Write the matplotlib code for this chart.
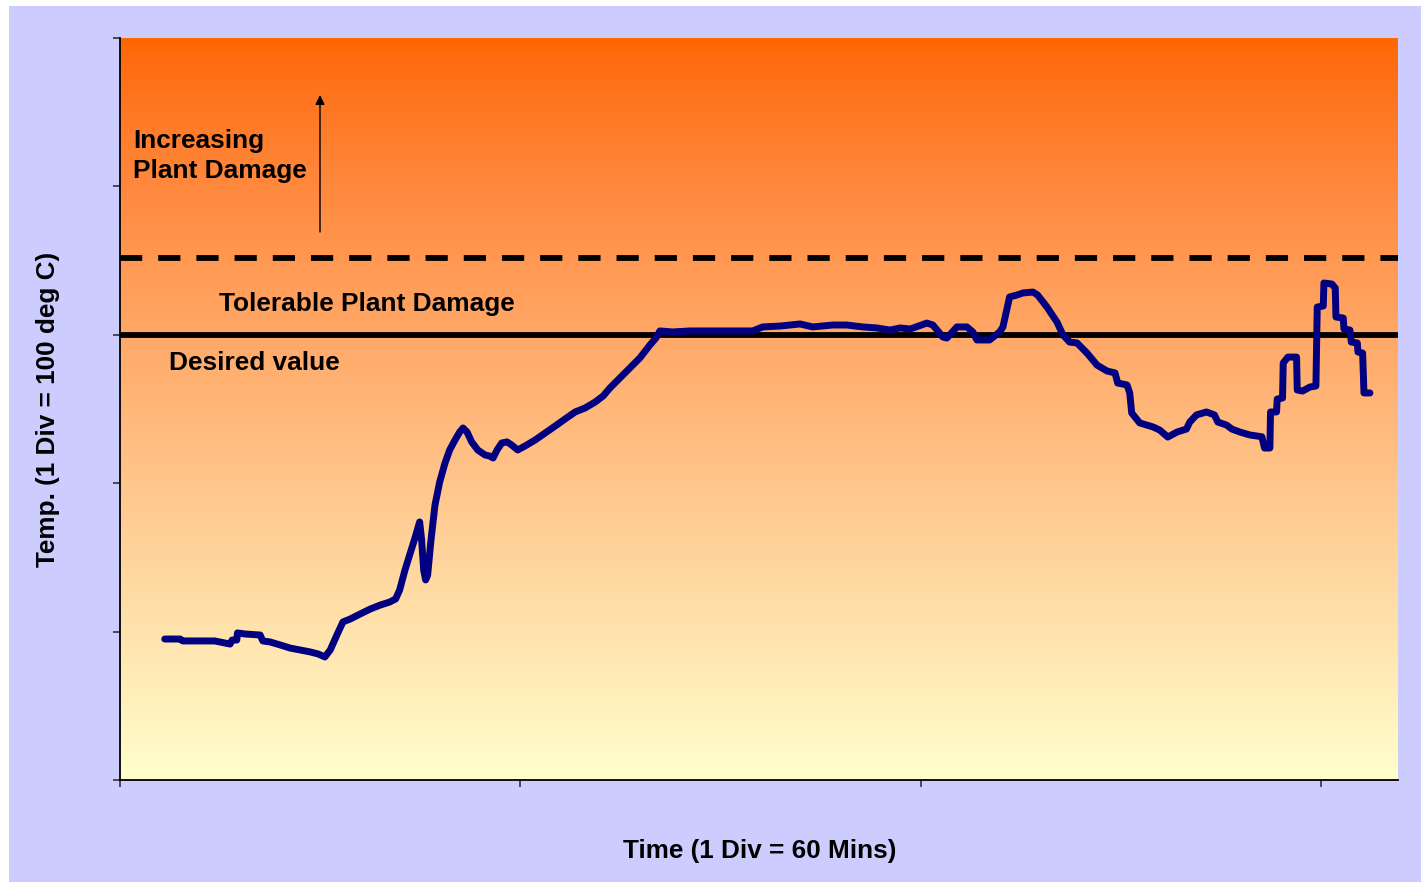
import numpy as np
import matplotlib
matplotlib.use("Agg")
import matplotlib.pyplot as plt
from matplotlib.patches import Rectangle

# time in minutes, temperature in deg C
time_min = [6.7, 9.0, 9.4, 12.0, 14.2, 15.7, 16.5, 16.8, 17.5, 17.6, 18.7, 21.0,
            21.4, 22.5, 24.0, 25.5, 27.0, 28.5, 29.7, 30.7, 31.5, 32.5, 33.4, 34.5,
            36.0, 37.5, 39.0, 40.4, 41.3, 41.9, 42.7, 43.4, 44.2, 44.9, 45.2, 45.5,
            45.8, 46.1, 46.6, 47.2, 47.9, 48.7, 49.4, 50.2, 50.9, 51.4, 52.0, 52.7,
            53.6, 54.7, 55.4, 55.9, 56.5, 57.2, 58.0, 58.7, 59.6, 60.7, 62.2, 63.7,
            65.2, 66.7, 68.2, 69.7, 71.2, 72.4, 73.4, 74.9, 76.4, 77.9, 79.4, 80.3,
            80.9, 82.8, 85.4, 88.4, 91.4, 94.8, 96.3, 98.9, 101.9, 103.8, 106.8, 108.9,
            111.3, 113.4, 115.4, 116.9, 118.4, 120.9, 121.8, 123.3, 123.9, 125.4, 126.9, 127.8,
            128.4, 130.3, 131.8, 132.3, 133.3, 134.4, 135.3, 136.8, 137.5, 138.9, 140.4, 141.3,
            142.3, 143.4, 144.9, 146.4, 147.9, 149.1, 149.5, 150.9, 151.3, 151.6, 152.8, 154.8,
            155.8, 157.0, 158.4, 159.8, 160.3, 161.3, 162.8, 164.0, 164.5, 165.8, 166.6, 167.8,
            169.3, 171.1, 171.5, 172.3, 172.4, 173.3, 173.4, 174.2, 174.3, 175.0, 176.3, 176.4,
            177.2, 178.3, 179.2, 179.4, 180.3, 180.4, 181.6, 182.1, 182.2, 183.3, 183.4, 184.3,
            184.5, 185.4, 185.5, 186.2, 186.4, 187.3]
temp_c = [95.0, 95.0, 93.7, 93.7, 93.7, 92.3, 91.6, 94.3, 94.3, 99.1, 98.4, 97.7,
          93.7, 93.0, 91.0, 88.9, 87.6, 86.3, 84.9, 82.9, 87.6, 97.7, 106.5, 108.5,
          111.9, 115.2, 117.9, 119.9, 122.0, 128.0, 141.5, 151.6, 163.1, 173.9, 161.7, 141.5,
          134.8, 138.1, 161.7, 185.3, 200.8, 213.6, 222.4, 229.1, 234.5, 237.2, 234.5, 227.8,
          222.4, 219.0, 218.3, 217.0, 222.4, 227.1, 227.8, 225.7, 222.4, 225.1, 229.1, 233.8,
          238.5, 243.3, 248.0, 250.7, 254.7, 258.8, 264.1, 270.9, 277.6, 284.4, 293.1, 297.8,
          302.6, 301.9, 302.6, 302.6, 302.6, 302.6, 305.3, 305.9, 307.3, 305.3, 306.6, 306.6,
          305.3, 304.6, 303.2, 304.6, 303.9, 307.9, 306.6, 298.5, 297.8, 305.3, 305.3, 301.9,
          296.5, 296.5, 301.9, 305.3, 325.5, 326.8, 328.2, 328.8, 326.8, 318.7, 308.6, 299.9,
          295.1, 294.5, 287.7, 279.6, 275.6, 274.3, 267.5, 266.2, 260.8, 247.3, 240.6, 237.9,
          235.8, 231.1, 234.5, 236.5, 241.2, 246.0, 248.0, 246.0, 241.2, 239.2, 236.5, 234.5,
          232.5, 231.3, 223.7, 223.7, 248.0, 248.0, 256.7, 257.4, 281.0, 285.0, 285.0, 262.8,
          262.1, 264.8, 265.5, 318.7, 319.4, 334.9, 334.2, 331.5, 312.0, 311.3, 303.9, 303.2,
          295.1, 294.5, 288.4, 287.7, 260.8, 260.8]

desired_value = 300
tolerable_limit = 352
x_ticks = [0, 60, 120, 180]
y_ticks = [0, 100, 200, 300, 400, 500]

plt.rcParams['font.family'] = ['Liberation Sans', 'DejaVu Sans']
plt.rcParams['font.weight'] = 'bold'
plt.rcParams['lines.scale_dashes'] = False

fig = plt.figure(figsize=(14.21, 8.82), dpi=100, facecolor='white')
# lavender panel behind the chart
fig.patches.append(Rectangle((9/1421, 0), 1, 876/882, transform=fig.transFigure,
                             facecolor='#CCCCFF', edgecolor='none', zorder=-10))

ax = fig.add_axes([120/1421, 102/882, 1278/1421, 742/882])
ax.set_xlim(0, 191.5)
ax.set_ylim(0, 500)

# vertical gradient: orange top -> pale yellow bottom
t = np.linspace(0, 1, 256)
grad = np.stack([np.ones_like(t),
                 (102 + 153 * t ** 0.92) / 255,
                 (204 * t ** 0.75) / 255], axis=1)
ax.imshow(grad[:, None, :], extent=(0, 1, 0, 1), transform=ax.transAxes,
          aspect='auto', zorder=0, interpolation='bilinear')

ax.axhline(tolerable_limit, xmin=0, xmax=1, color='black', lw=4.2,
           dashes=(16, 11.5), zorder=2)
ax.axhline(desired_value, xmin=0, xmax=0.998, color='black', lw=4.2, zorder=2)

ax.plot(time_min, temp_c, color='#000080', lw=5, solid_joinstyle='round',
        solid_capstyle='round', zorder=3)

ax.text(0.0102, 0.8113, 'Increasing\nPlant Damage', transform=ax.transAxes,
        fontsize=18.9, fontweight='bold', va='baseline', ha='left', linespacing=1.33)
ax.annotate('', xy=(0.1565, 0.9232), xytext=(0.1565, 0.7385),
            xycoords='axes fraction', textcoords='axes fraction',
            arrowprops=dict(arrowstyle='-|>', color='black', lw=1,
                            mutation_scale=14, shrinkA=0, shrinkB=0))
ax.text(0.0775, 0.632, 'Tolerable Plant Damage', transform=ax.transAxes,
        fontsize=18.9, fontweight='bold', va='baseline', ha='left')
ax.text(0.0383, 0.5526, 'Desired value', transform=ax.transAxes,
        fontsize=18.9, fontweight='bold', va='baseline', ha='left')

ax.set_xticks(x_ticks)
ax.set_yticks(y_ticks)
ax.tick_params(labelbottom=False, labelleft=False, length=5, width=1.2,
               direction='out', color='#333333')
for s in ['top', 'right']:
    ax.spines[s].set_visible(False)
for s in ['left', 'bottom']:
    ax.spines[s].set_linewidth(1.3)
    ax.spines[s].set_zorder(4)

ax.set_xlabel('Time (1 Div = 60 Mins)', fontsize=18.8, fontweight='bold')
ax.set_ylabel('Temp. (1 Div = 100 deg C)', fontsize=18.8, fontweight='bold')
ax.xaxis.set_label_coords(0.5008, -0.0795)
ax.yaxis.set_label_coords(-0.047, 0.5)

fig.savefig('out.png', dpi=100, facecolor=fig.get_facecolor())
